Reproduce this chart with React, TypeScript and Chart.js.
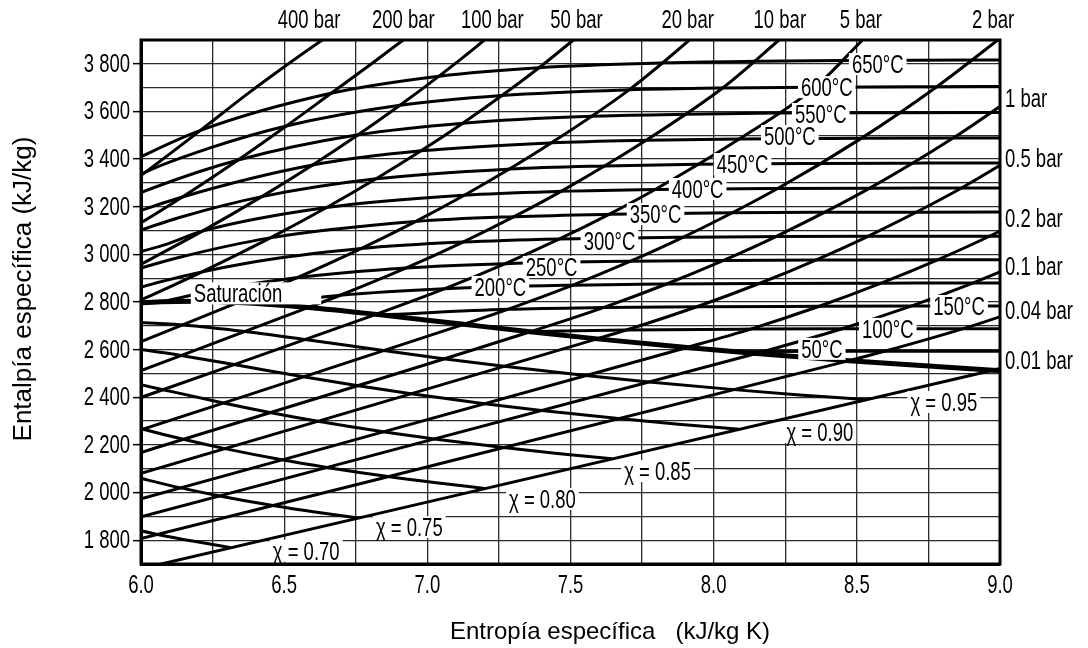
import React, { useEffect, useRef } from 'react';
import { Chart, registerables } from 'chart.js';

Chart.register(...registerables);

type Pt = [number, number];

// ---- Saturation line (x = 1) : [s, h]
const saturation: Pt[] = [[5.9737, 2794.2], [6.0696, 2800.8], [6.186, 2803.2], [6.339, 2798.3], [6.585, 2777.1], [6.821, 2748.1], [7.127, 2706.3], [7.359, 2674.9], [7.593, 2645.2], [7.907, 2608.9], [8.149, 2583.9], [8.473, 2553.7], [8.975, 2513.7], [9.156, 2500.9]];

// ---- Isobars
const p400: Pt[] = [[5.4744, 2903.3], [5.7857, 3149.0], [6.017, 3346.4], [6.2078, 3520.6], [6.374, 3676.0], [6.503, 3790.0], [6.633, 3900.0], [6.7, 3955.0]];
const p200: Pt[] = [[5.5553, 2819.9], [5.9043, 3063.1], [6.1446, 3241.1], [6.339, 3396.2], [6.5075, 3539.0], [6.6593, 3672.0], [6.7991, 3795.0], [6.916, 3900.0], [6.98, 3955.0]];
const p100: Pt[] = [[5.946, 2924.0], [6.2141, 3097.5], [6.4219, 3242.4], [6.5995, 3375.1], [6.7585, 3502.0], [6.9045, 3625.8], [7.0408, 3748.1], [7.1693, 3870.0], [7.4085, 4114.5]];
const p50: Pt[] = [[5.9, 2755.0], [5.9737, 2794.2], [6.2111, 2925.7], [6.4516, 3069.3], [6.6483, 3196.7], [6.821, 3317.2], [6.9781, 3434.7], [7.1237, 3550.9], [7.2605, 3666.9], [7.3901, 3783.6], [7.51, 3900.0], [7.57, 3960.0]];
const p20: Pt[] = [[6.0, 2633.4], [6.339, 2798.3], [6.5475, 2903.3], [6.7684, 3024.2], [6.9583, 3137.7], [7.1292, 3248.4], [7.2866, 3358.2], [7.4337, 3468.3], [7.7043, 3690.7], [7.915, 3900.0], [7.97, 3960.0]];
const p10: Pt[] = [[6.0, 2512.1], [6.585, 2777.1], [6.6955, 2828.3], [6.9265, 2943.1], [7.1246, 3051.6], [7.3029, 3158.2], [7.467, 3264.5], [7.7642, 3479.1], [8.0311, 3698.6], [8.228, 3900.0], [8.29, 3965.0]];
const p5: Pt[] = [[6.0, 2399.2], [6.821, 2748.1], [7.061, 2855.8], [7.2725, 2961.0], [7.4614, 3064.6], [7.6346, 3168.1], [7.7956, 3272.4], [8.0893, 3484.5], [8.3544, 3702.1], [8.52, 3900.0], [8.58, 3970.0]];
const p2: Pt[] = [[6.0, 2262.9], [7.127, 2706.3], [7.281, 2769.1], [7.5081, 2870.7], [7.71, 2971.2], [7.8941, 3072.1], [8.2236, 3276.7], [8.5153, 3487.0], [8.7793, 3704.0], [9.0215, 3927.0]];
const p1: Pt[] = [[6.0, 2168.3], [7.359, 2674.9], [7.6148, 2776.6], [7.8356, 2875.5], [8.0346, 2974.5], [8.2172, 3074.5], [8.5452, 3278.0], [8.8362, 3488.1], [9.0999, 3704.8]];
const p05: Pt[] = [[6.0, 2080.5], [7.593, 2645.2], [7.6953, 2682.4], [7.9413, 2780.2], [8.1592, 2877.7], [8.3568, 2976.2], [8.5387, 3075.8], [8.8659, 3278.6], [9.1566, 3488.7]];
const p02: Pt[] = [[6.0, 1973.6], [7.907, 2608.9], [8.129, 2686.2], [8.369, 2782.0], [8.585, 2879.0], [8.782, 2977.0], [8.963, 3076.0], [9.13, 3177.0]];
const p01: Pt[] = [[6.0, 1898.4], [8.149, 2583.9], [8.1741, 2592.0], [8.4489, 2687.5], [8.6893, 2783.0], [8.9049, 2879.6], [9.1015, 2977.3]];
const p004: Pt[] = [[6.0, 1807.3], [8.473, 2553.7], [8.597, 2593.0], [8.872, 2688.0], [9.112, 2783.0]];
const p001: Pt[] = [[6.0, 1680.4], [8.975, 2513.7], [9.05, 2535.0]];

// ---- Isotherms
const t650: Pt[] = [[5.9, 3350], [6.0, 3410], [6.2078, 3520.6], [6.6593, 3675.3], [7.0408, 3748.1], [7.39, 3784], [7.83, 3804], [8.156, 3811], [8.478, 3814], [8.902, 3816], [9.22, 3816]];
const t600: Pt[] = [[5.88, 3255], [6.017, 3346.4], [6.2331, 3443.9], [6.5075, 3539.0], [6.9045, 3625.8], [7.2605, 3666.9], [7.7043, 3690.7], [8.0311, 3698.6], [8.3544, 3702.1], [8.7793, 3704.0], [9.0999, 3704.8]];
const t550: Pt[] = [[5.7857, 3149.0], [6.0342, 3275.4], [6.339, 3396.2], [6.7585, 3502.0], [7.1237, 3550.9], [7.57, 3580], [7.90, 3588], [8.225, 3593], [8.65, 3595], [8.97, 3596], [9.29, 3596.5]];
const t500: Pt[] = [[5.7956, 3083.3], [5.9592, 3165.9], [6.1446, 3241.1], [6.5995, 3375.1], [6.9781, 3434.7], [7.4337, 3468.3], [7.7642, 3479.1], [8.0893, 3484.5], [8.5153, 3487.0], [8.8362, 3488.1], [9.1566, 3488.7]];
const t450: Pt[] = [[5.9043, 3063.1], [6.1434, 3157.9], [6.4219, 3242.4], [6.821, 3317.2], [7.2866, 3358.2], [7.619, 3371.3], [7.945, 3378.5], [8.37, 3382], [8.69, 3383], [9.014, 3383.5]];
const t400: Pt[] = [[5.8824, 2975.7], [6.0818, 3040.0], [6.2141, 3097.5], [6.6483, 3196.7], [7.1292, 3248.4], [7.467, 3264.5], [7.7956, 3272.4], [8.2236, 3276.7], [8.5452, 3278.0], [8.8659, 3278.6], [9.29, 3279.3]];
const t350: Pt[] = [[5.946, 2924.0], [6.1353, 2988.1], [6.4516, 3069.3], [6.9583, 3137.7], [7.3029, 3158.2], [7.6346, 3168.1], [8.064, 3175.0], [8.386, 3176.6], [8.706, 3177.0], [9.13, 3177.5]];
const t300: Pt[] = [[5.7942, 2786.5], [6.0703, 2885.5], [6.3639, 2961.7], [6.7684, 3024.2], [7.1246, 3051.6], [7.4614, 3064.6], [7.8941, 3072.1], [8.2172, 3074.5], [8.5387, 3075.8], [8.963, 3076.3], [9.2827, 3076.7]];
const t250: Pt[] = [[6.0722, 2801.0], [6.2893, 2856.5], [6.5475, 2903.3], [6.9265, 2943.1], [7.2725, 2961.0], [7.71, 2971.2], [8.0346, 2974.5], [8.3568, 2976.2], [8.782, 2977.0], [9.1015, 2977.3]];
const t200: Pt[] = [[6.4302, 2792.0], [6.6955, 2828.3], [7.061, 2855.8], [7.5081, 2870.7], [7.8356, 2875.5], [8.1592, 2877.7], [8.585, 2879.0], [8.9049, 2879.6], [9.33, 2880.0]];
const t150: Pt[] = [[6.8371, 2745.9], [7.281, 2769.1], [7.6148, 2776.6], [7.9413, 2780.2], [8.369, 2782.0], [8.6893, 2783.0], [9.112, 2783.5]];
const t100: Pt[] = [[7.3542, 2675.6], [7.6953, 2682.4], [8.129, 2686.2], [8.4489, 2687.5], [8.872, 2688.0], [9.51, 2688.3]];
const t50: Pt[] = [[8.0748, 2591.3], [8.1741, 2592.0], [8.597, 2593.0], [9.24, 2594.0]];

// ---- Constant quality lines
const q070: Pt[] = [[5.899, 1866.3], [6.058, 1824.0], [6.185, 1795.1], [6.314, 1768.7]];
const q075: Pt[] = [[5.968, 2069.0], [6.138, 2019.5], [6.274, 1985.9], [6.461, 1945.6], [6.608, 1918.0], [6.758, 1893.0]];
const q080: Pt[] = [[5.829, 2326.5], [6.008, 2266.0], [6.148, 2223.5], [6.293, 2184.3], [6.492, 2137.4], [6.649, 2105.5], [6.863, 2067.2], [7.031, 2041.0], [7.201, 2017.2]];
const q085: Pt[] = [[5.918, 2474.9], [6.077, 2431.9], [6.288, 2376.1], [6.45, 2336.4], [6.618, 2299.5], [6.846, 2255.3], [7.024, 2225.1], [7.266, 2188.9], [7.454, 2164.0], [7.645, 2141.5]];
const q090: Pt[] = [[5.95, 2609.3], [6.14, 2575.6], [6.325, 2537.3], [6.567, 2486.1], [6.753, 2449.3], [6.943, 2414.7], [7.2, 2373.2], [7.399, 2344.7], [7.668, 2310.5], [7.877, 2286.9], [8.088, 2265.7]];
const q095: Pt[] = [[5.906, 2715.2], [6.01, 2712.7], [6.145, 2703.8], [6.363, 2676.4], [6.573, 2642.7], [6.847, 2596.2], [7.056, 2562.1], [7.268, 2530.0], [7.553, 2491.0], [7.774, 2464.3], [8.071, 2432.1], [8.3, 2409.9], [8.532, 2390.0]];

const isobars: Pt[][] = [p400, p200, p100, p50, p20, p10, p5, p2, p1, p05, p02, p01, p004, p001];
const isotherms: Pt[][] = [t650, t600, t550, t500, t450, t400, t350, t300, t250, t200, t150, t100, t50];
const qualities: Pt[][] = [q070, q075, q080, q085, q090, q095];

// ---- Labels (text, s, h, extra right box)
const inPlotLabels: [string, number, number, number][] = [
  ['650°C', 8.573, 3795, 0], ['600°C', 8.395, 3698, 0], ['550°C', 8.374, 3585, 0],
  ['500°C', 8.266, 3493, 0], ['450°C', 8.101, 3375, 0], ['400°C', 7.944, 3270, 0],
  ['350°C', 7.797, 3165, 0], ['300°C', 7.636, 3052, 0], ['250°C', 7.434, 2943, 0],
  ['200°C', 7.255, 2859, 0], ['Saturación', 6.339, 2832, 36], ['150°C', 8.857, 2779, 0],
  ['100°C', 8.608, 2683, 0], ['50°C', 8.378, 2599, 0],
  ['χ = 0.95', 8.804, 2376, 0], ['χ = 0.90', 8.371, 2250, 0], ['χ = 0.85', 7.804, 2086, 0],
  ['χ = 0.80', 7.402, 1969, 0], ['χ = 0.75', 6.937, 1851, 0], ['χ = 0.70', 6.577, 1751, 0],
];
const topLabels: [string, number][] = [
  ['400 bar', 6.587], ['200 bar', 6.916], ['100 bar', 7.227], ['50 bar', 7.521],
  ['20 bar', 7.909], ['10 bar', 8.231], ['5 bar', 8.514], ['2 bar', 8.976],
];
const rightLabels: [string, number][] = [
  ['1 bar', 3648], ['0.5 bar', 3396], ['0.2 bar', 3144], ['0.1 bar', 2943], ['0.04 bar', 2758], ['0.01 bar', 2548],
];

const SANS = "'Liberation Sans', Arial, sans-serif";
const FONT_SIZE = 25;
const SQUEEZE = 0.74; // condensed look

function narrowText(ctx: CanvasRenderingContext2D, t: string, x: number, y: number, align: 'left' | 'center' | 'right') {
  const w = ctx.measureText(t).width * SQUEEZE;
  const left = align === 'left' ? x : align === 'center' ? x - w / 2 : x - w;
  ctx.save();
  ctx.translate(left, y);
  ctx.scale(SQUEEZE, 1);
  ctx.textAlign = 'left';
  ctx.fillText(t, 0, 0);
  ctx.restore();
  return w;
}

const yTickText = (v: number) => `${Math.floor(v / 1000)} ${String(v % 1000).padStart(3, '0')}`;

const annotPlugin = {
  id: 'annot',
  afterDatasetsDraw(chart: any) {
    const { ctx, chartArea: a, scales } = chart;
    const x = scales.x, y = scales.y;
    ctx.save();
    ctx.font = `${FONT_SIZE}px ${SANS}`;
    ctx.textBaseline = 'middle';
    for (const [t, s, h, extra] of inPlotLabels) {
      const px = x.getPixelForValue(s), py = y.getPixelForValue(h);
      const w = ctx.measureText(t).width * SQUEEZE;
      ctx.fillStyle = '#fff';
      ctx.fillRect(px - w / 2 - 3, py - 12, w + 6 + extra, 22);
      ctx.fillStyle = '#000';
      narrowText(ctx, t, px, py + 1, 'center');
    }
    ctx.lineWidth = 3;
    ctx.strokeStyle = '#000';
    ctx.strokeRect(a.left, a.top, a.right - a.left, a.bottom - a.top);
    ctx.fillStyle = '#000';
    // tick labels from the library's scales
    for (const tk of x.ticks) {
      const v = tk.value;
      if (Math.abs(v * 2 - Math.round(v * 2)) < 1e-9) narrowText(ctx, v.toFixed(1), x.getPixelForValue(v), a.bottom + 22, 'center');
    }
    for (const tk of y.ticks) {
      const v = tk.value;
      if (v % 200 === 0 && v >= 1800 && v <= 3800) narrowText(ctx, yTickText(v), a.left - 11, y.getPixelForValue(v) + 1, 'right');
    }
    for (const [t, s] of topLabels) narrowText(ctx, t, x.getPixelForValue(s), a.top - 19, 'center');
    for (const [t, h] of rightLabels) narrowText(ctx, t, a.right + 5, y.getPixelForValue(h), 'left');
    ctx.font = `24px ${SANS}`;
    ctx.textAlign = 'center';
    ctx.fillText('Entropía específica   (kJ/kg K)', 610, 632);
    ctx.font = `26px ${SANS}`;
    ctx.translate(24, 289);
    ctx.rotate(-Math.PI / 2);
    ctx.fillText('Entalpía específica (kJ/kg)', 0, 0);
    ctx.restore();
  },
};

const toXY = (pts: Pt[]) => pts.map(([s, h]) => ({ x: s, y: h }));

export default function App() {
  const ref = useRef<HTMLCanvasElement>(null);
  useEffect(() => {
    if (!ref.current) return;
    const mk = (pts: Pt[], w: number) => ({
      data: toXY(pts),
      showLine: true,
      borderColor: '#000',
      borderWidth: w,
      pointRadius: 0,
      cubicInterpolationMode: 'monotone' as const,
      clip: 0,
    });
    const datasets = [
      ...isobars.map((p) => mk(p, 3)),
      ...isotherms.map((p) => mk(p, 3)),
      ...qualities.map((p) => mk(p, 3)),
      mk(saturation, 5),
    ];
    const chart = new Chart(ref.current, {
      type: 'scatter',
      data: { datasets },
      plugins: [annotPlugin],
      options: {
        responsive: false,
        devicePixelRatio: 1,
        animation: false,
        events: [],
        layout: { padding: { top: 40, right: 88, left: 0, bottom: 0 } },
        plugins: { legend: { display: false }, tooltip: { enabled: false } },
        scales: {
          x: {
            type: 'linear',
            min: 6,
            max: 9,
            afterFit: (s: any) => { s.height = 84; },
            grid: { color: '#2a2a2a', lineWidth: 1.3, drawTicks: false },
            border: { display: true, color: '#000', width: 3 },
            ticks: { stepSize: 0.25, autoSkip: false, maxRotation: 0, display: false },
          },
          y: {
            type: 'linear',
            min: 1700,
            max: 3900,
            afterFit: (s: any) => { s.width = 141; },
            grid: {
              color: '#2a2a2a',
              lineWidth: 1.3,
              drawTicks: true,
              tickLength: 8,
              tickWidth: 1.5,
              tickColor: (c: any) => (c.tick && c.tick.value % 200 === 0 && c.tick.value >= 1800 && c.tick.value <= 3800 ? '#000' : 'rgba(0,0,0,0)'),
            },
            border: { display: true, color: '#000', width: 3 },
            ticks: { stepSize: 100, autoSkip: false, display: false },
          },
        },
      } as any,
    });
    return () => chart.destroy();
  }, []);
  return (
    <canvas
      ref={ref}
      width={1088}
      height={648}
      style={{ position: 'fixed', left: 0, top: 0, display: 'block', background: '#fff' }}
    />
  );
}
